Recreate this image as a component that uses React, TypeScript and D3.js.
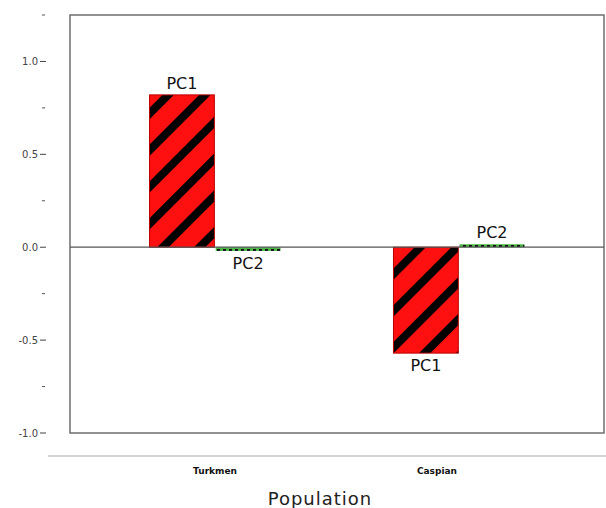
import React from 'react';
import * as d3 from 'd3';

const populations = ['Turkmen', 'Caspian'];
const components = ['PC1', 'PC2'];
const pc1Values = [0.82, -0.57];
const pc2Values = [-0.02, 0.01];
const majorTicks = [-1.0, -0.5, 0.0, 0.5, 1.0];
const minorTicks = [-0.75, -0.25, 0.25, 0.75, 1.25];

const W = 606;
const H = 508;
const frame = { left: 70, right: 604, top: 15, bottom: 433 };

export default function App() {
  const y = d3.scaleLinear().domain([-1, 1.25]).range([frame.bottom, frame.top]);
  const x0 = d3
    .scaleBand<string>()
    .domain(populations)
    .range([frame.left, frame.right])
    .paddingInner(0.463)
    .paddingOuter(0.326);
  const x1 = d3.scaleBand<string>().domain(components).range([0, x0.bandwidth()]).paddingInner(0.02);

  const bars = populations.flatMap((p, i) => [
    { pop: p, comp: 'PC1', v: pc1Values[i] },
    { pop: p, comp: 'PC2', v: pc2Values[i] },
  ]);

  return (
    <svg width={W} height={H} style={{ position: 'absolute', left: 0, top: 0, background: '#fff' }}>
      <defs>
        <pattern id="hatch" patternUnits="userSpaceOnUse" width="26" height="26" patternTransform="rotate(-45)">
          <rect width="26" height="26" fill="#ff1010" />
          <rect x="0" y="0" width="26" height="8" fill="#000" />
        </pattern>
        <pattern id="dots" patternUnits="userSpaceOnUse" width="6" height="4">
          <rect width="6" height="4" fill="#4cb848" />
          <rect x="1" y="1" width="3" height="2" fill="#111" />
        </pattern>
      </defs>

      <rect
        x={frame.left}
        y={frame.top}
        width={frame.right - frame.left}
        height={frame.bottom - frame.top}
        fill="#fff"
        stroke="#777"
        strokeWidth={1.6}
      />
      <line x1={48} x2={W} y1={456} y2={456} stroke="#c4c4c4" strokeWidth={1.5} />

      {majorTicks.map((t) => (
        <g key={t}>
          <text
            x={38}
            y={y(t)}
            dy="0.35em"
            textAnchor="end"
            fontFamily="DejaVu Sans, sans-serif"
            fontSize={10}
            fill="#444"
          >
            {t.toFixed(1)}
          </text>
          <line x1={40} x2={46} y1={y(t)} y2={y(t)} stroke="#444" strokeWidth={1} />
        </g>
      ))}
      {minorTicks.map((t) => (
        <line key={t} x1={42} x2={45} y1={y(t)} y2={y(t)} stroke="#555" strokeWidth={1} />
      ))}

      {bars.map((b) => {
        const bx = (x0(b.pop) ?? 0) + (x1(b.comp) ?? 0);
        const top = b.v >= 0 ? y(b.v) : y(0);
        const h = Math.max(Math.abs(y(b.v) - y(0)), 3);
        const yTop = b.comp === 'PC2' ? (b.v >= 0 ? y(0) - 3 : y(0)) : top;
        const above = b.v >= 0;
        return (
          <g key={b.pop + b.comp}>
            <rect
              x={bx}
              y={yTop}
              width={x1.bandwidth()}
              height={h}
              fill={b.comp === 'PC1' ? 'url(#hatch)' : 'url(#dots)'}
              stroke={b.comp === 'PC1' ? '#b00' : 'none'}
              strokeWidth={1}
            />
            <text
              x={bx + x1.bandwidth() / 2}
              y={above ? yTop - 6 : yTop + h + 18}
              textAnchor="middle"
              fontFamily="DejaVu Sans, sans-serif"
              fontSize={16}
              fill="#111"
            >
              {b.comp}
            </text>
          </g>
        );
      })}

      <line x1={frame.left} x2={frame.right} y1={y(0)} y2={y(0)} stroke="#555" strokeWidth={1.2} />

      {populations.map((p, i) => (
        <text
          key={p}
          x={(x0(p) ?? 0) + x0.bandwidth() / 2 - i * 22}
          y={474}
          textAnchor="middle"
          fontFamily="DejaVu Sans, sans-serif"
          fontWeight="bold"
          fontSize={9}
          fill="#111"
        >
          {p}
        </text>
      ))}
      <text
        x={320}
        y={505}
        textAnchor="middle"
        fontFamily="DejaVu Sans, sans-serif"
        fontSize={18}
        fill="#222"
        letterSpacing={1}
      >
        Population
      </text>
    </svg>
  );
}
